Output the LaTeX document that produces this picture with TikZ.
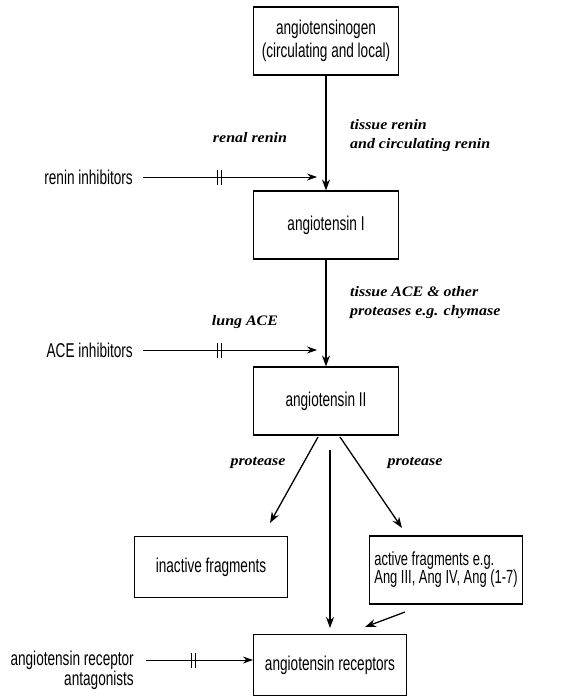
\documentclass[tikz,border=0pt]{standalone}
\usepackage{fontspec}
\newfontfamily\boxfont{Liberation Sans}[FakeStretch=0.68]
\newfontfamily\labfont{Liberation Serif}[FakeStretch=1.1]
\usetikzlibrary{arrows.meta, positioning, decorations.markings}
\tikzset{
  stage/.style={rectangle, draw, line width=1.1pt,
                minimum width=145pt, minimum height=68pt,
                align=center, font=\boxfont\fontsize{20}{23}\selectfont},
  frag/.style={stage, minimum width=153pt, minimum height=61pt},
  drug/.style={font=\boxfont\fontsize{20}{20}\selectfont, align=right,
               anchor=east, inner sep=0pt},
  enz/.style={font=\labfont\bfseries\itshape\fontsize{14.5}{19}\selectfont,
              align=left, inner sep=0pt},
  flow/.style={-{Stealth[length=11pt,width=8pt]}, line width=1.3pt},
  blocked/.style={-{Stealth[length=10pt,width=7pt]}, line width=0.7pt,
                  postaction={decorate},
                  decoration={markings, mark=at position 0.44 with
                    {\draw[-, line width=0.9pt] (-2pt,-7.5pt) -- (-2pt,7.5pt) (2pt,-7.5pt) -- (2pt,7.5pt);}}},
}
\begin{document}
\begin{tikzpicture}[x=1pt, y=-1pt]
  \useasboundingbox (0,0) rectangle (561,696);
  % main cascade
  \node[stage] (agen) at (326,41)  {angiotensinogen\\(circulating and local)};
  \node[stage] (ang1) at (326,225) {angiotensin I};
  \node[stage] (ang2) at (326,401) {angiotensin II};
  \node[frag]  (inact) at (211,567) {inactive fragments};
  \node[frag, minimum height=68pt, align=left,
        font=\boxfont\fontsize{19}{18}\selectfont] (act) at (446,570)
        {active fragments e.g.\\Ang III, Ang IV, Ang (1-7)};
  \node[frag]  (rec) at (330,665) {angiotensin receptors};
  % inhibitors
  \node[drug] (renI) at (133,177) {renin inhibitors};
  \node[drug] (aceI) at (133,350) {ACE inhibitors};
  \node[drug] (arb)  at (134,670) {angiotensin receptor\\antagonists};
  % enzymes
  \node[enz] (rr)   at (250,138) {renal renin};
  \node[enz, anchor=west] (tr) at (350,136) {tissue renin\\and circulating renin};
  \node[enz] (lung) at (245,322) {lung ACE};
  \node[enz, anchor=west] (tace) at (350,303) {tissue ACE \& other\\proteases e.g. chymase};
  \node[enz] (pl) at (258,463) {protease};
  \node[enz] (pr) at (415,463) {protease};
  % arrow ends
  \coordinate (reninT) at (317,177);
  \coordinate (aceT)   at (317,350);
  \coordinate (arbS)   at (146,660);
  \coordinate (splitL) at (318,437);
  \coordinate (splitM) at (330,450);
  \coordinate (splitR) at (340,437);
  \coordinate (inactT) at (270,523);
  \coordinate (actT)   at (402,528);
  \coordinate (recT)   at (330,628);
  \coordinate (actS)   at (405,612);
  \coordinate (recR)   at (365,627);
  \draw[flow] (agen) -- (ang1);
  \draw[flow] (ang1) -- (ang2);
  \draw[flow] (splitL) -- (inactT);
  \draw[flow] (splitM) -- (recT);
  \draw[flow] (splitR) -- (actT);
  \draw[flow] (actS) -- (recR);
  \draw[blocked] ([xshift=10pt]renI.east) -- (reninT);
  \draw[blocked] ([xshift=10pt]aceI.east) -- (aceT);
  \draw[blocked] (arbS) -- (rec.west |- arbS);
\end{tikzpicture}
\end{document}
